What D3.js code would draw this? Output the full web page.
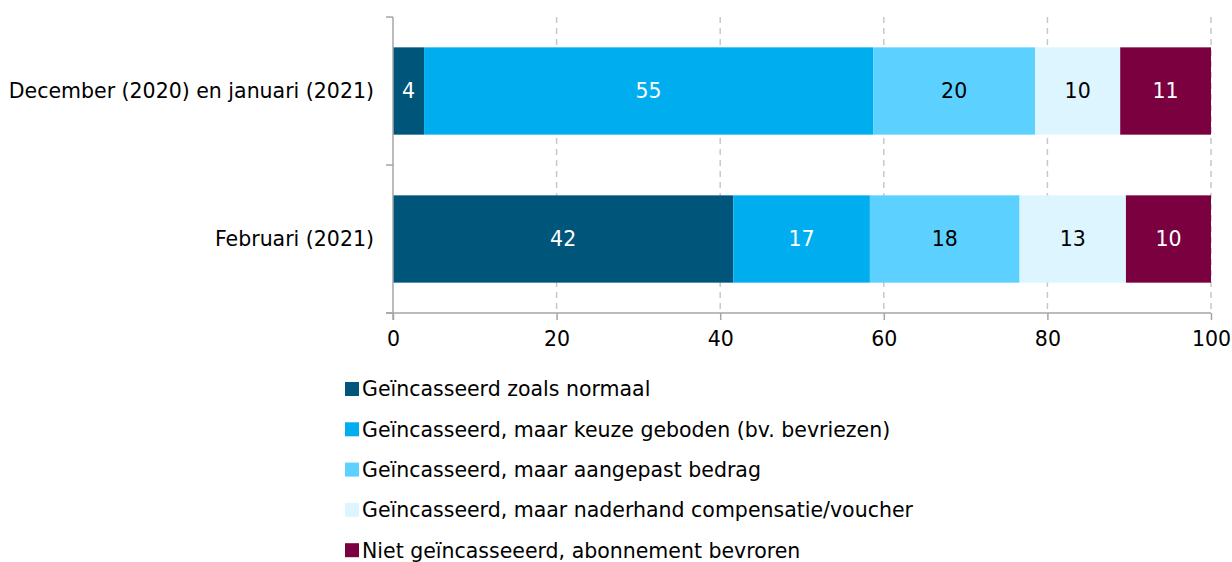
<!DOCTYPE html>
<html><head><meta charset="utf-8">
<script src="https://cdn.jsdelivr.net/npm/d3@7"></script>
<style>body{margin:0;background:#fff}svg{display:block;font-family:"DejaVu Sans",sans-serif}</style>
</head><body><svg id="c" width="1232" height="562"></svg>
<script>
const categories = ["December (2020) en januari (2021)", "Februari (2021)"];
const seriesNames = [
  "Geïncasseerd zoals normaal",
  "Geïncasseerd, maar keuze geboden (bv. bevriezen)",
  "Geïncasseerd, maar aangepast bedrag",
  "Geïncasseerd, maar naderhand compensatie/voucher",
  "Niet geïncasseeerd, abonnement bevroren"
];
const normaal = [3.8, 41.6];
const keuze = [54.9, 16.7];
const aangepast = [19.8, 18.3];
const compensatie = [10.4, 13.0];
const bevroren = [11.1, 10.4];
const xTicks = [0, 20, 40, 60, 80, 100];
const colors = ["#00567a", "#00aeef", "#5cd1ff", "#dcf5fe", "#7b003f"];
const labelColors = ["#fff", "#fff", "#000", "#000", "#fff"];

const FS = 20.5;
const series = [normaal, keuze, aangepast, compensatie, bevroren];
const rows = categories.map((c, i) => {
  const r = {cat: c};
  seriesNames.forEach((s, j) => r[s] = series[j][i]);
  return r;
});
const stacked = d3.stack().keys(seriesNames)(rows);

const svg = d3.select("#c");
const x = d3.scaleLinear().domain([0, 100]).range([393, 1211]);
const y = d3.scaleBand().domain(categories).range([17, 313]).paddingInner(0.41).paddingOuter(0.205);
const band = d3.scaleBand().domain(categories).range([17, 313]);
const gray = "#a6a6a6";

// gridlines
svg.append("g").selectAll("line").data(xTicks.slice(1)).join("line")
  .attr("x1", d => x(d)).attr("x2", d => x(d)).attr("y1", 17).attr("y2", 313)
  .attr("stroke", "#c8c8c8").attr("stroke-width", 1.5).attr("stroke-dasharray", "6,5");

// bars
const g = svg.append("g");
stacked.forEach((s, j) => {
  g.append("g").selectAll("rect").data(s).join("rect")
    .attr("x", d => x(d[0])).attr("width", d => x(d[1]) - x(d[0]))
    .attr("y", d => y(d.data.cat)).attr("height", y.bandwidth())
    .attr("fill", colors[j]);
  g.append("g").selectAll("text").data(s).join("text")
    .attr("x", d => (x(d[0]) + x(d[1])) / 2)
    .attr("y", d => y(d.data.cat) + y.bandwidth() / 2)
    .attr("dy", "0.36em").attr("text-anchor", "middle")
    .attr("font-size", FS).attr("fill", labelColors[j])
    .text(d => Math.round(d[1] - d[0]));
});

// x axis
const xa = svg.append("g").attr("transform", "translate(0,313)")
  .call(d3.axisBottom(x).tickValues(xTicks).tickSize(7).tickPadding(11).tickSizeOuter(0));
xa.select(".domain").remove();
xa.selectAll("line").attr("stroke", gray).attr("stroke-width", 1.5);
xa.selectAll("text").attr("font-size", FS).attr("fill", "#000").attr("font-family", "DejaVu Sans");
svg.append("line").attr("x1", 386).attr("x2", 1211).attr("y1", 313).attr("y2", 313)
  .attr("stroke", gray).attr("stroke-width", 1.5);

// y axis
svg.append("line").attr("x1", 393).attr("x2", 393).attr("y1", 17).attr("y2", 320)
  .attr("stroke", gray).attr("stroke-width", 1.5);
const yTicks = [band(categories[0]), band(categories[1]), 313];
svg.append("g").selectAll("line").data(yTicks).join("line")
  .attr("x1", 386).attr("x2", 393).attr("y1", d => d).attr("y2", d => d)
  .attr("stroke", gray).attr("stroke-width", 1.5);
svg.append("g").selectAll("text").data(categories).join("text")
  .attr("x", 374).attr("y", d => y(d) + y.bandwidth() / 2).attr("dy", "0.36em")
  .attr("text-anchor", "end").attr("font-size", FS).attr("fill", "#000").text(d => d);

// legend
const lg = svg.append("g").selectAll("g").data(seriesNames).join("g")
  .attr("transform", (d, i) => `translate(345,${389 + i * 40.3})`);
lg.append("rect").attr("x", 0).attr("y", -7).attr("width", 14).attr("height", 14)
  .attr("fill", (d, i) => colors[i]);
lg.append("text").attr("x", 17).attr("y", 0).attr("dy", "0.36em")
  .attr("font-size", FS).attr("fill", "#000").text(d => d);
</script></body></html>
